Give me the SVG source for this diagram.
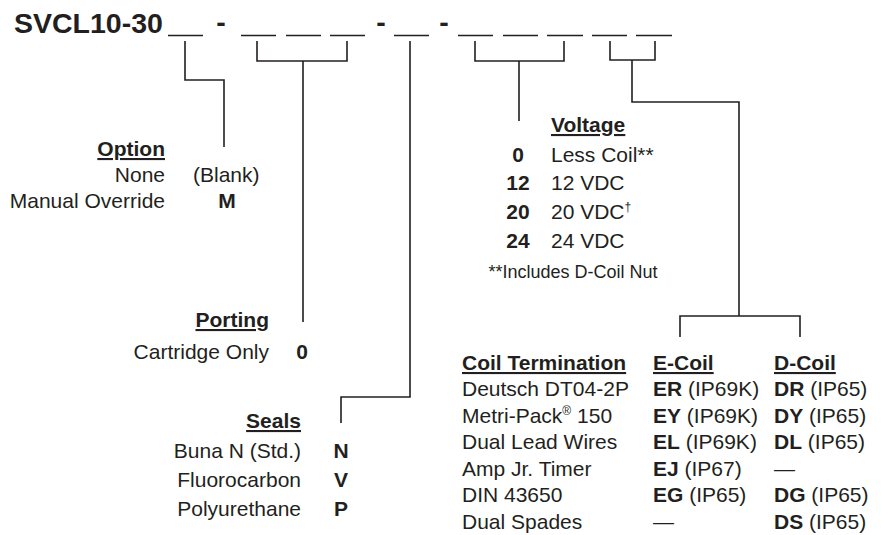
<svg xmlns="http://www.w3.org/2000/svg" width="890" height="535" viewBox="0 0 890 535">
<style>
text{font-family:"Liberation Sans",Arial,sans-serif;fill:#231f20;font-size:21px}
.b{font-weight:bold}
.h{font-weight:bold;text-decoration:underline}
.r{text-anchor:end}
.m{text-anchor:middle}
.t{font-size:28.5px;font-weight:bold}
.sup{font-size:12px}
.ln{fill:none;stroke:#231f20;stroke-width:1.6}
</style>
<rect width="890" height="535" fill="#fff"/>
<g id="title">
<text class="t" x="14" y="33">SVCL10-30</text>
<g class="ln">
<path d="M168,35.5H203M241,35.5H276M286,35.5H321M330,35.5H365M394,35.5H429M458,35.5H493M503,35.5H538M547,35.5H583M592,35.5H627M636,35.5H672"/>
</g>
<text class="t m" x="221" y="32">-</text>
<text class="t m" x="381" y="32">-</text>
<text class="t m" x="444" y="32">-</text>
</g>
<g id="connectors" class="ln">
<path d="M185,41V80H224V147"/>
<path d="M257,41V61H347V41M303,61V322"/>
<path d="M410,41V397H341V423"/>
<path d="M475,41V61H564V41M519,61V121"/>
<path d="M610,41V60H655V41M632,60V102H739V316M680,337V316H800V337"/>
</g>
<g id="option">
<text class="h r" x="165" y="156">Option</text>
<text class="r" x="165" y="182">None</text>
<text x="193" y="182">(Blank)</text>
<text class="r" x="165" y="208">Manual Override</text>
<text class="b m" x="227" y="208">M</text>
</g>
<g id="porting">
<text class="h r" x="269" y="327">Porting</text>
<text class="r" x="269" y="359">Cartridge Only</text>
<text class="b m" x="302" y="359">0</text>
</g>
<g id="seals">
<text class="h r" x="301" y="428">Seals</text>
<text class="r" x="301" y="458">Buna N (Std.)</text>
<text class="b m" x="341" y="458">N</text>
<text class="r" x="301" y="487">Fluorocarbon</text>
<text class="b m" x="341" y="487">V</text>
<text class="r" x="301" y="516">Polyurethane</text>
<text class="b m" x="341" y="516">P</text>
</g>
<g id="voltage">
<text class="h" x="551" y="132">Voltage</text>
<text class="b m" x="518" y="162">0</text>
<text x="551" y="162">Less Coil**</text>
<text class="b m" x="518" y="190">12</text>
<text x="551" y="190">12 VDC</text>
<text class="b m" x="518" y="219">20</text>
<text x="551" y="219">20 VDC<tspan class="sup" dy="-8">†</tspan></text>
<text class="b m" x="518" y="248">24</text>
<text x="551" y="248">24 VDC</text>
<text class="m" x="573" y="278" style="font-size:18px">**Includes D-Coil Nut</text>
</g>
<g id="coil">
<text class="h" x="462" y="370">Coil Termination</text>
<text class="h" x="653" y="370">E-Coil</text>
<text class="h" x="774" y="370">D-Coil</text>
<text x="462" y="396">Deutsch DT04-2P</text>
<text x="462" y="423">Metri-Pack<tspan class="sup" dy="-8">®</tspan><tspan dy="8"> 150</tspan></text>
<text x="462" y="449">Dual Lead Wires</text>
<text x="462" y="476">Amp Jr. Timer</text>
<text x="462" y="502">DIN 43650</text>
<text x="462" y="529">Dual Spades</text>
<text x="653" y="396"><tspan class="b">ER</tspan> (IP69K)</text>
<text x="653" y="423"><tspan class="b">EY</tspan> (IP69K)</text>
<text x="653" y="449"><tspan class="b">EL</tspan> (IP69K)</text>
<text x="653" y="476"><tspan class="b">EJ</tspan> (IP67)</text>
<text x="653" y="502"><tspan class="b">EG</tspan> (IP65)</text>
<text x="653" y="529">—</text>
<text x="774" y="396"><tspan class="b">DR</tspan> (IP65)</text>
<text x="774" y="423"><tspan class="b">DY</tspan> (IP65)</text>
<text x="774" y="449"><tspan class="b">DL</tspan> (IP65)</text>
<text x="774" y="476">—</text>
<text x="774" y="502"><tspan class="b">DG</tspan> (IP65)</text>
<text x="774" y="529"><tspan class="b">DS</tspan> (IP65)</text>
</g>
</svg>
